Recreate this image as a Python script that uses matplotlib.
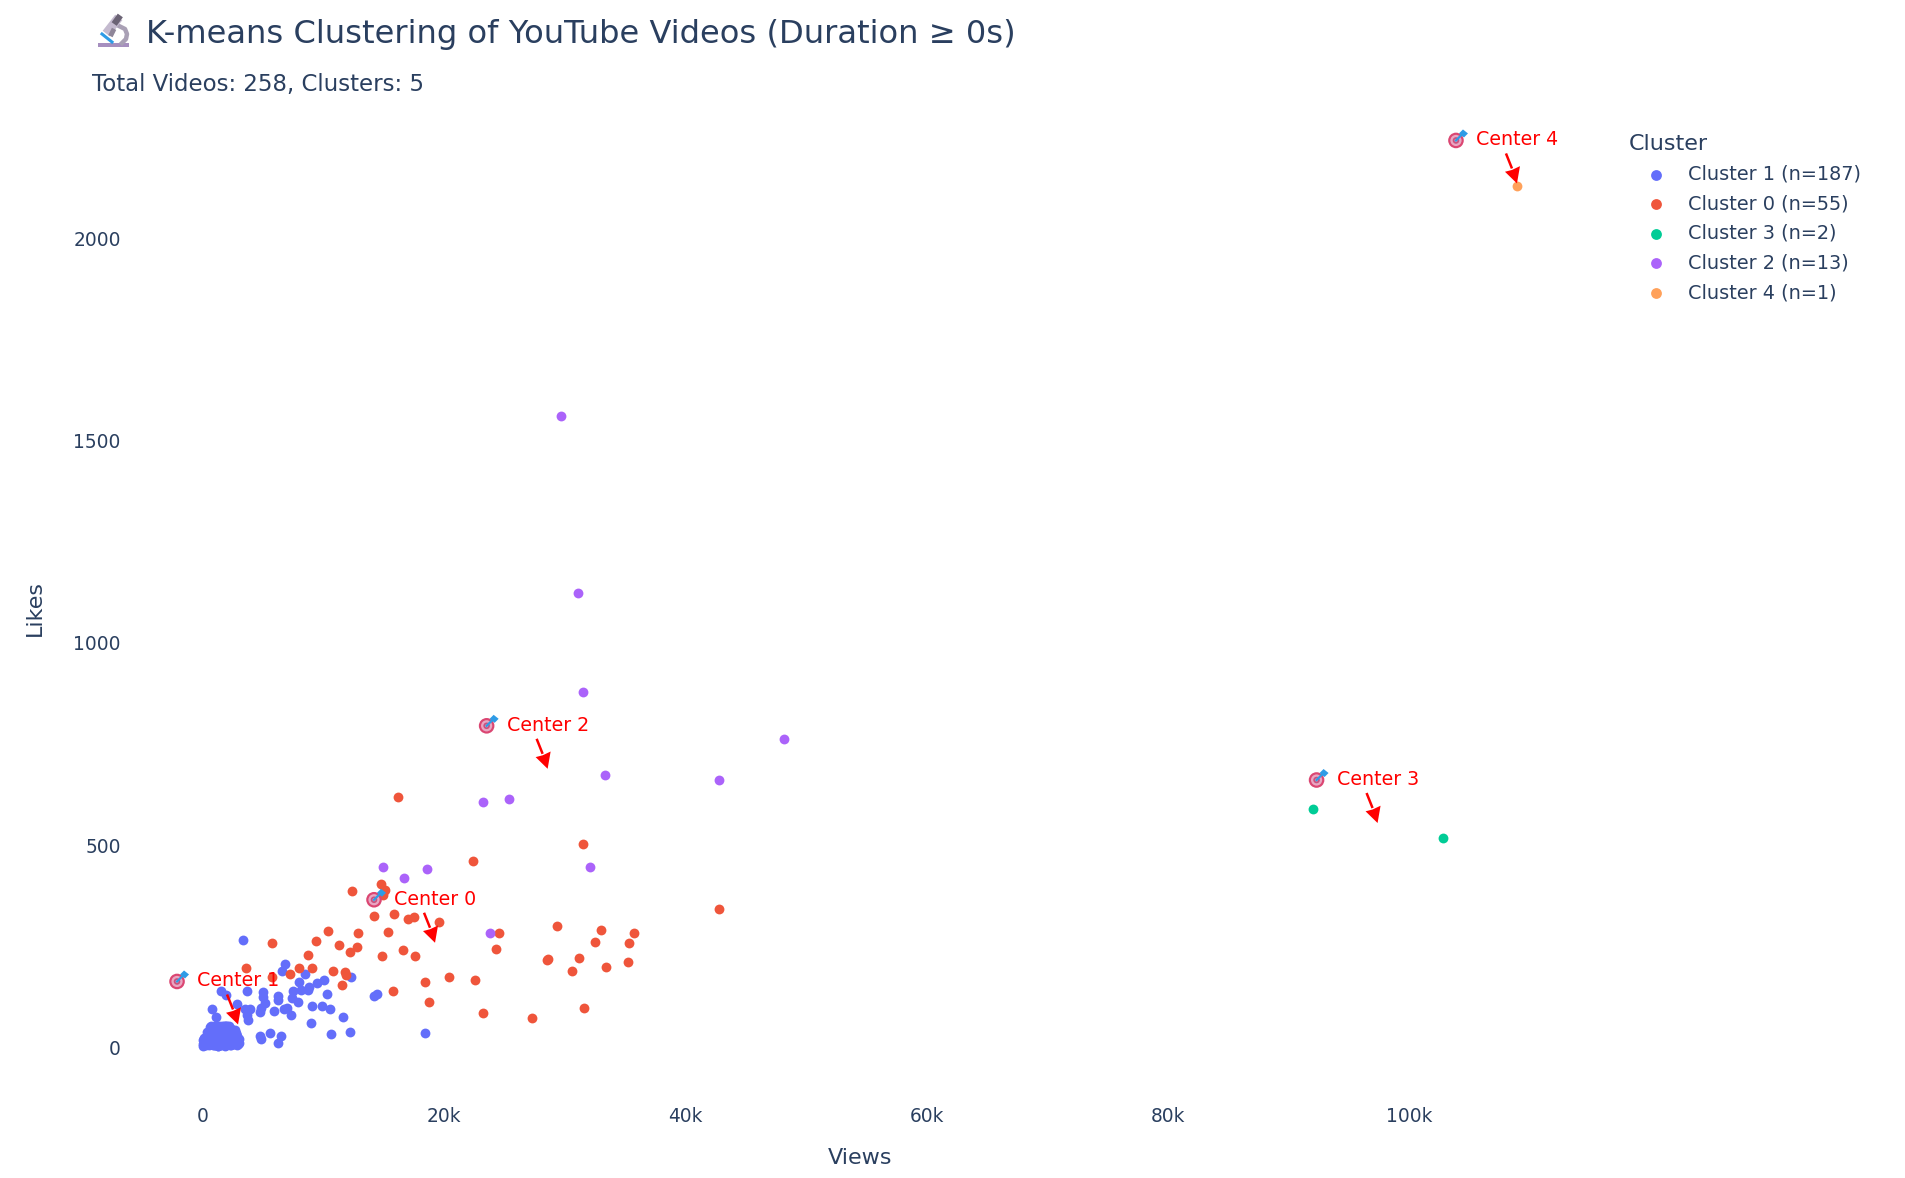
import matplotlib
matplotlib.use("Agg")
import matplotlib.pyplot as plt
from matplotlib.lines import Line2D
from matplotlib.patches import Polygon, Circle
from matplotlib.transforms import IdentityTransform

plt.rcParams['font.family'] = ['DejaVu Sans']

TEXT = '#2a3f5f'
W, H = 1906, 1178

cluster1_views = [3350, 6828, 6607, 8512, 7987, 10057, 9505, 8815, 8760, 8153, 7463, 7435, 7932, 10306, 9064, 9919,
                  10581, 11658, 8953, 10637, 12238, 12293, 14197, 14473, 18420, 4979, 5034, 5144, 4758, 4813, 6276,
                  6248, 5945, 6745, 7021, 7352, 3709, 3930, 3544, 3764, 3709, 2854, 1529, 1943, 811, 1115, 4758, 4813,
                  5614, 6469, 6248,
                  12, 47, 85, 132, 64, 191, 238, 305, 156, 284, 352, 417, 391, 472, 518, 566, 607, 481, 655, 703,
                  742, 788, 829, 876, 923, 968, 1004, 1052, 1096, 1127, 1178, 1213, 1256, 1288, 1332, 1371, 1409,
                  1456, 1493, 1528, 1574, 1603, 1652, 1698, 1734, 1771, 1806, 1855, 1892, 1933, 1974, 2008, 2056,
                  2093, 2134, 2177, 2214, 2251, 2296, 2332, 2373, 2411, 2457, 2492, 2536, 2571, 2614, 2658, 2692,
                  2733, 2774, 2816, 2853, 2897, 2931, 2978, 3047, 2990, 640, 905, 1150, 1390, 1620, 1880, 2120, 2380,
                  2640, 2860, 350, 560, 780, 1020, 1240, 1480, 1710, 1950, 2190, 2430, 2680, 700, 950, 1190, 1430,
                  1670, 1910, 2150, 2400, 2700, 450, 860, 1070, 1310, 1550, 1790, 2030, 2270, 2510, 2780, 620, 990,
                  1340, 1760, 2220, 2590, 1120, 1520, 1980, 2440, 880, 1300, 1840, 2330]
cluster1_likes = [266, 206, 190, 182, 162, 166, 159, 150, 142, 141, 139, 121, 112, 131, 102, 103,
                  96, 75, 60, 34, 39, 173, 126, 131, 36, 138, 124, 109, 88, 97, 126,
                  116, 91, 94, 98, 80, 139, 96, 94, 68, 80, 107, 140, 130, 94, 75, 28, 20,
                  35, 27, 11,
                  3, 8, 5, 14, 19, 9, 24, 6, 24, 15, 29, 11, 38, 19, 7, 31, 44, 36, 12, 25,
                  52, 17, 39, 8, 28, 47, 15, 52, 33, 21, 9, 43, 27, 51, 13, 36, 24,
                  48, 10, 31, 52, 18, 41, 26, 8, 50, 35, 14, 45, 22, 50, 30, 11,
                  40, 19, 52, 27, 9, 37, 16, 46, 24, 33, 12, 43, 21, 8, 30, 44,
                  17, 34, 26, 12, 28, 20, 9, 10, 22, 50, 6, 42, 53, 23, 4, 49, 16,
                  36, 6, 28, 12, 46, 5, 51, 37, 13, 52, 28, 42, 21, 49, 6, 35,
                  17, 48, 7, 29, 5, 24, 33, 11, 53, 4, 19, 41, 53, 7, 25, 36, 15,
                  32, 5, 52, 22, 38, 47, 6, 51, 14, 39, 4, 52, 28]

cluster0_views = [16166, 31484, 22431, 14758, 15117, 14979, 12412, 14234, 15890, 16994, 17491, 19588, 10370, 12881,
                  15393, 24584, 29386, 33002, 35762, 42800, 11308, 12826, 12219, 16635, 17601, 14841, 24308, 32477,
                  35375, 31153, 28614, 28531, 33416, 35293, 30573, 10784, 11777, 11888, 11529, 15807, 18457, 20389,
                  22569, 18733, 23204, 27289, 31594, 5779, 9367, 3599, 8732, 8015, 7214, 9091, 5724]
cluster0_likes = [618, 503, 460, 403, 389, 377, 386, 326, 329, 318, 322, 311, 287, 284,
                  286, 284, 299, 290, 282, 341, 254, 248, 236, 240, 225, 225, 244, 260,
                  257, 222, 219, 215, 199, 210, 188, 190, 187, 178, 155, 140, 162, 173,
                  167, 113, 84, 73, 97, 258, 264, 197, 229, 197, 182, 196, 175]

cluster3_views = [92005, 102750]
cluster3_likes = [589, 517]

cluster2_views = [29670, 31078, 31519, 48162, 33341, 42780, 25420, 23267, 14951, 18595, 16690, 32063, 23811]
cluster2_likes = [1560, 1123, 879, 763, 674, 660, 614, 607, 446, 441, 420, 445, 284]

cluster4_views = [108870]
cluster4_likes = [2130]

series = [
    ('Cluster 1 (n=187)', cluster1_views, cluster1_likes, '#636EFA'),
    ('Cluster 0 (n=55)', cluster0_views, cluster0_likes, '#EF553B'),
    ('Cluster 3 (n=2)', cluster3_views, cluster3_likes, '#00CC96'),
    ('Cluster 2 (n=13)', cluster2_views, cluster2_likes, '#AB63FA'),
    ('Cluster 4 (n=1)', cluster4_views, cluster4_likes, '#FFA15A'),
]

center_ids = [0, 1, 2, 3, 4]
center_views = [14210, -2110, 23540, 92300, 103850]
center_likes = [365, 163, 795, 661, 2242]

x_ticks = [0, 20000, 40000, 60000, 80000, 100000]
x_labels = ['0', '20k', '40k', '60k', '80k', '100k']
y_ticks = [0, 500, 1000, 1500, 2000]
y_labels = ['0', '500', '1000', '1500', '2000']

fig = plt.figure(figsize=(W / 100, H / 100), dpi=100, facecolor='white')
ax = fig.add_axes([150 / W, (H - 1100) / H, 1470 / W, 1000 / H])
ax.set_xlim(-4350, 117440)
ax.set_ylim(-130, 2342)
for s in ax.spines.values():
    s.set_visible(False)
ax.set_xticks(x_ticks, x_labels)
ax.set_yticks(y_ticks, y_labels)
ax.tick_params(length=0, labelsize=13.4, labelcolor=TEXT)
ax.tick_params(axis='x', pad=5.2)
ax.tick_params(axis='y', pad=21)
for lab in ax.get_yticklabels():
    lab.set_verticalalignment('center_baseline')

handles = []
for label, xs, ys, color in series:
    h = ax.scatter(xs, ys, s=50, color=color, linewidths=0, label=label, zorder=3, clip_on=False)
    handles.append(h)

ax.set_xlabel('Views', fontsize=16, color=TEXT)
ax.xaxis.set_label_coords((860 - 150) / 1470, -(1158.5 - 1100) / 1000, transform=ax.transAxes)
ax.xaxis.label.set_va('center')
ax.set_ylabel('Likes', fontsize=16, color=TEXT)
ax.yaxis.set_label_coords((35 - 150) / 1470, (1100 - 608) / 1000, transform=ax.transAxes)
ax.yaxis.label.set_va('center')

ident = IdentityTransform()
fig.canvas.draw()

for k, cx, cy in zip(center_ids, center_views, center_likes):
    px, py = ax.transData.transform((cx, cy))
    for r, col in [(7.8, '#DB4672'), (5.6, '#E9A6C2'), (3.3, '#C9537F'), (1.5, '#E9A6C2')]:
        ax.add_patch(Circle((px, py), r, transform=ident, facecolor=col, edgecolor='none', zorder=5, clip_on=False))
    ax.add_line(Line2D([px, px + 6], [py, py + 6], transform=ident, color='#2E9BE6', lw=1.6, zorder=6, clip_on=False))
    ax.add_patch(Polygon([(px + 3, py + 7), (px + 7, py + 11), (px + 12, py + 7), (px + 8, py + 3)], transform=ident,
                         facecolor='#2E9BE6', edgecolor='none', zorder=6, clip_on=False))
    ax.annotate(f'Center {k}', xy=(cx, cy), xytext=(61.5, 0.5), textcoords='offset pixels', ha='center', va='center',
                color='red', fontsize=13.7, zorder=7, annotation_clip=False)
    tx, ty = px + 61, py - 43
    ax.add_line(Line2D([px + 50, tx - 5], [py - 13, ty + 15], transform=ident, color='red', lw=1.8, zorder=7,
                       solid_capstyle='butt', clip_on=False))
    ax.add_patch(Polygon([(tx, ty), (tx - 12, ty + 11.7), (tx - 5, ty + 13.5), (tx + 3, ty + 17.3)], transform=ident,
                         facecolor='red', edgecolor='none', zorder=7, clip_on=False))

leg = ax.legend(handles=handles, title='Cluster', loc='upper left',
                bbox_to_anchor=(1629 / W, (H - 134) / H), bbox_transform=fig.transFigure, frameon=False,
                fontsize=13.9, title_fontsize=16, labelspacing=0.55, handletextpad=0.26, borderpad=0, borderaxespad=0,
                handlelength=2.8, labelcolor=TEXT, alignment='left', markerscale=1.1)
leg.get_title().set_color(TEXT)

fig.text(146 / W, (H - 34.5) / H, 'K-means Clustering of YouTube Videos (Duration ≥ 0s)', fontsize=23.15, color=TEXT,
         ha='left', va='center')
fig.text(92 / W, (H - 84) / H, 'Total Videos: 258, Clusters: 5', fontsize=16.45, color=TEXT, ha='left', va='center')


# microscope icon drawn from shapes (colour emoji font is not installed)
def Y(y):
    return H - y


fig.add_artist(Polygon([(98.3, Y(42.7)), (129, Y(42.7)), (129, Y(47.3)), (98.3, Y(47.3))], transform=ident,
                       facecolor='#A68FBF', edgecolor='none'))
fig.add_artist(Line2D([102, 112], [Y(34), Y(42)], transform=ident, color='#2E9BE6', lw=2.2))
fig.add_artist(Line2D([119, 125, 127, 126, 122], [Y(26), Y(29), Y(34), Y(39), Y(43)], transform=ident,
                      color='#A9A0B5', lw=3.2))
fig.add_artist(Line2D([116, 109], [Y(21), Y(30)], transform=ident, color='#C4BACF', lw=6.5))
fig.add_artist(Line2D([113, 111.5], [Y(31), Y(34)], transform=ident, color='#8F8699', lw=3.5))
fig.add_artist(Line2D([118.5, 116], [Y(18), Y(21.5)], transform=ident, color='#6B6375', lw=4.5))

fig.savefig('out.png', dpi=100, facecolor='white')
